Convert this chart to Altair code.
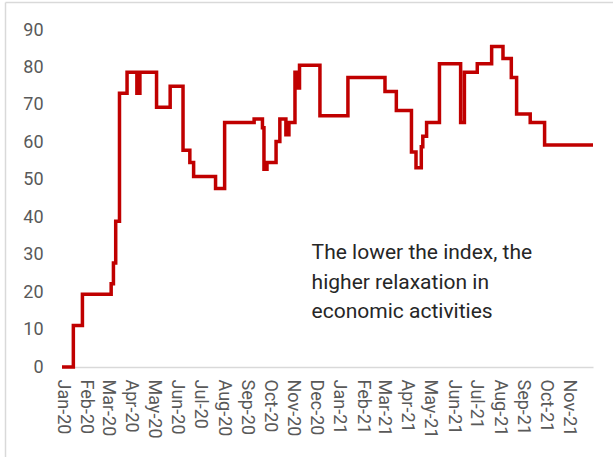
import altair as alt
import pandas as pd

# Daily index level, recorded at each date where the value changes
dates = [
    "2020-01-01", "2020-01-16", "2020-01-28", "2020-03-06", "2020-03-09",
    "2020-03-12", "2020-03-17", "2020-03-27", "2020-04-09", "2020-04-13",
    "2020-05-05", "2020-05-23", "2020-06-09", "2020-06-18", "2020-06-23",
    "2020-07-22", "2020-08-03", "2020-09-11", "2020-09-22", "2020-09-24",
    "2020-09-28", "2020-10-10", "2020-10-15", "2020-10-23", "2020-10-27",
    "2020-11-04", "2020-11-08", "2020-11-10", "2020-12-07", "2021-01-13",
    "2021-03-03", "2021-03-18", "2021-04-07", "2021-04-13", "2021-04-20",
    "2021-04-22", "2021-04-27", "2021-05-14", "2021-06-11", "2021-06-16",
    "2021-07-03", "2021-07-22", "2021-08-06", "2021-08-17", "2021-08-24",
    "2021-09-11", "2021-09-30", "2021-12-03",
]
index_values = [
    0, 11.1, 19.4, 22.2, 27.8,
    38.9, 73.1, 78.7, 73.1, 78.7,
    69.4, 75.0, 57.9, 54.6, 50.9,
    47.7, 65.3, 66.2, 63.9, 52.8,
    54.6, 60.2, 66.2, 62.0, 65.3,
    78.7, 74.5, 80.6, 67.1, 77.3,
    73.6, 68.5, 57.4, 53.2, 58.8,
    61.6, 65.3, 81.0, 65.3, 78.7,
    81.0, 85.6, 82.4, 77.3, 67.6,
    65.3, 59.3, 59.3,
]

y_ticks = [0, 10, 20, 30, 40, 50, 60, 70, 80, 90]
# month starts labelled on the x axis: (year, month)
month_ticks = [(2020, m) for m in range(1, 13)] + [(2021, m) for m in range(1, 12)]

note_lines = ["The lower the index, the", "higher relaxation in", "economic activities"]
note_date = "2020-11-26"
note_level = 28.8

df = pd.DataFrame({"date": dates, "index": index_values})
note_df = pd.DataFrame({"date": [note_date], "level": [note_level], "text": [note_lines]})

x_scale = alt.Scale(
    type="utc",
    domain=[
        alt.DateTime(year=2020, month=1, date=1, utc=True),
        alt.DateTime(year=2021, month=12, date=3, utc=True),
    ],
    nice=False,
)
y_scale = alt.Scale(domain=[0, 90], nice=False)

label_font = "Roboto"
grey = "#595959"

# one axis definition per channel, shared by every layer so they merge cleanly
x_axis = alt.Axis(
    values=[alt.DateTime(year=y, month=m, date=1, utc=True) for y, m in month_ticks],
    format="%b-%y",
    labelAngle=90,
    labelAlign="left",
    labelBaseline="middle",
    labelPadding=12,
    labelFont=label_font,
    labelFontSize=18,
    labelColor=grey,
    labelOverlap=False,
    labelFlush=False,
    ticks=False,
    tickSize=0,
    domainColor="#d9d9d9",
    domainWidth=1.5,
    grid=False,
    title=None,
)
y_axis = alt.Axis(
    values=y_ticks,
    labelPadding=19,
    labelFont=label_font,
    labelFontSize=18,
    labelColor=grey,
    labelOverlap=False,
    ticks=False,
    tickSize=0,
    domain=False,
    grid=False,
    title=None,
)

line = alt.Chart(df).mark_line(
    interpolate="step-after", color="#C00000", strokeWidth=3.5
).encode(
    x=alt.X("date:T", scale=x_scale, axis=x_axis),
    y=alt.Y("index:Q", scale=y_scale, axis=y_axis),
)

note = alt.Chart(note_df).mark_text(
    align="left",
    baseline="alphabetic",
    font=label_font,
    fontSize=21,
    lineHeight=29.5,
    color="#262626",
).encode(
    x=alt.X("date:T", scale=x_scale, axis=x_axis),
    y=alt.Y("level:Q", scale=y_scale, axis=y_axis),
    text="text",
)

# thin light frame along the top and left edges of the figure
frame_left = alt.Chart(note_df).mark_rule(color="#d9d9d9", strokeWidth=1.5).encode(
    x=alt.value(-56.5), y=alt.value(-27.5), y2=alt.value(430)
)
frame_top = alt.Chart(note_df).mark_rule(color="#d9d9d9", strokeWidth=1.5).encode(
    x=alt.value(-56.5), x2=alt.value(560), y=alt.value(-27.5)
)

chart = (
    alt.layer(line, note, frame_left, frame_top)
    .properties(
        width=531,
        height=337,
        padding={"left": 62, "top": 30, "right": 20, "bottom": 90},
        autosize=alt.AutoSizeParams(type="none"),
        background="white",
    )
    .configure_view(stroke=None)
)

chart.save("out.html", embed_options={"renderer": "svg", "actions": False})
